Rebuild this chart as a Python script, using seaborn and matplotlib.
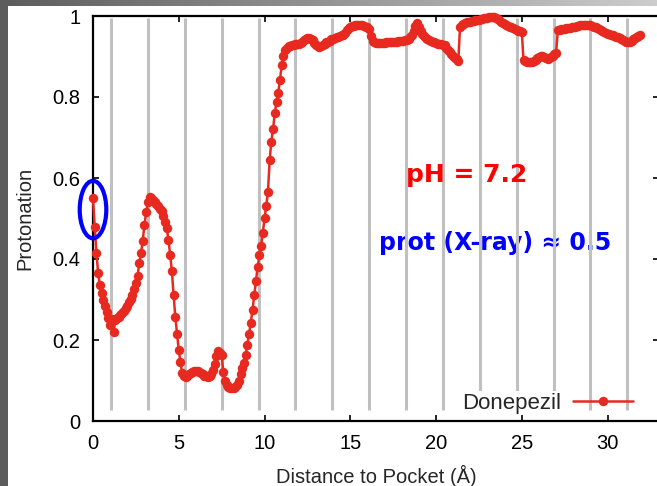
import matplotlib
matplotlib.use("Agg")
import matplotlib.pyplot as plt
import numpy as np
import pandas as pd
import seaborn as sns
from matplotlib.patches import Ellipse, Rectangle

# Protonation of Donepezil sampled every 0.1 Å along the exit path (0.0 .. 31.9 Å)
protonation = [
    0.550, 0.480, 0.415, 0.365, 0.335, 0.315, 0.300, 0.285, 0.270, 0.255,   # 0
    0.238, 0.252, 0.220, 0.250, 0.255, 0.258, 0.262, 0.266, 0.272, 0.278,   # 1
    0.285, 0.293, 0.302, 0.312, 0.325, 0.340, 0.358, 0.390, 0.415, 0.445,   # 2
    0.485, 0.515, 0.540, 0.552, 0.550, 0.546, 0.541, 0.536, 0.530, 0.524,   # 3
    0.518, 0.505, 0.492, 0.476, 0.447, 0.410, 0.370, 0.310, 0.257, 0.215,   # 4
    0.175, 0.145, 0.118, 0.110, 0.109, 0.112, 0.116, 0.119, 0.122, 0.124,   # 5
    0.124, 0.123, 0.121, 0.118, 0.115, 0.112, 0.110, 0.109, 0.111, 0.116,   # 6
    0.126, 0.140, 0.160, 0.172, 0.168, 0.162, 0.120, 0.100, 0.090, 0.085,   # 7
    0.082, 0.081, 0.082, 0.085, 0.090, 0.100, 0.115, 0.130, 0.143, 0.162,   # 8
    0.188, 0.215, 0.243, 0.275, 0.310, 0.345, 0.380, 0.410, 0.432, 0.465,   # 9
    0.500, 0.530, 0.565, 0.645, 0.690, 0.722, 0.760, 0.788, 0.810, 0.842,   # 10
    0.878, 0.900, 0.915, 0.921, 0.925, 0.927, 0.928, 0.929, 0.930, 0.931,   # 11
    0.932, 0.934, 0.937, 0.940, 0.943, 0.945, 0.946, 0.944, 0.940, 0.934,   # 12
    0.928, 0.925, 0.924, 0.926, 0.929, 0.932, 0.935, 0.937, 0.939, 0.942,   # 13
    0.944, 0.946, 0.948, 0.949, 0.950, 0.952, 0.954, 0.958, 0.965, 0.971,   # 14
    0.974, 0.975, 0.976, 0.977, 0.978, 0.978, 0.978, 0.977, 0.976, 0.974,   # 15
    0.972, 0.968, 0.950, 0.938, 0.935, 0.934, 0.933, 0.933, 0.933, 0.934,   # 16
    0.934, 0.935, 0.935, 0.936, 0.936, 0.937, 0.937, 0.937, 0.938, 0.938,   # 17
    0.939, 0.939, 0.940, 0.941, 0.944, 0.948, 0.953, 0.962, 0.975, 0.982,   # 18
    0.972, 0.962, 0.955, 0.950, 0.946, 0.943, 0.940, 0.938, 0.937, 0.936,   # 19
    0.934, 0.932, 0.931, 0.930, 0.929, 0.928, 0.922, 0.916, 0.911, 0.905,   # 20
    0.900, 0.896, 0.893, 0.890, 0.974, 0.978, 0.980, 0.982, 0.984, 0.985,   # 21
    0.986, 0.987, 0.988, 0.989, 0.990, 0.991, 0.992, 0.993, 0.994, 0.995,   # 22
    0.996, 0.997, 0.998, 0.998, 0.997, 0.995, 0.992, 0.989, 0.986, 0.983,   # 23
    0.980, 0.978, 0.976, 0.974, 0.972, 0.970, 0.968, 0.966, 0.964, 0.962,   # 24
    0.961, 0.891, 0.888, 0.887, 0.887, 0.887, 0.887, 0.889, 0.892, 0.896,   # 25
    0.899, 0.900, 0.900, 0.898, 0.896, 0.895, 0.896, 0.898, 0.902, 0.906,   # 26
    0.908, 0.965, 0.966, 0.967, 0.968, 0.969, 0.970, 0.970, 0.971, 0.972,   # 27
    0.973, 0.974, 0.975, 0.976, 0.977, 0.977, 0.978, 0.978, 0.978, 0.978,   # 28
    0.977, 0.976, 0.974, 0.972, 0.970, 0.968, 0.966, 0.964, 0.961, 0.958,   # 29
    0.956, 0.955, 0.954, 0.953, 0.951, 0.949, 0.947, 0.945, 0.943, 0.941,   # 30
    0.939, 0.937, 0.936, 0.937, 0.939, 0.942, 0.945, 0.948, 0.951, 0.953,   # 31
]
bin_width = 0.1
distance = [round(i * bin_width, 1) for i in range(len(protonation))]

# Boundaries between path segments (Å)
segment_bounds = [1.05, 3.2, 5.35, 7.5, 9.65, 11.8, 13.95, 16.1,
                  18.25, 20.4, 22.55, 24.7, 26.85, 29.0, 31.15]

x_ticks = [0, 5, 10, 15, 20, 25, 30]
y_ticks = [0, 0.2, 0.4, 0.6, 0.8, 1.0]
y_tick_labels = ["0", "0.2", "0.4", "0.6", "0.8", "1"]

series_name = "Donepezil"
ph_label = "pH = 7.2"
xray_label = "prot (X-ray) \u2248 0.5"
xray_prot = 0.5

RED = "#e8291f"

sns.set_theme(style="ticks")
plt.rcParams["font.family"] = ["Liberation Sans", "DejaVu Sans"]

W, H = 657, 486
fig = plt.figure(figsize=(W / 100, H / 100), dpi=100)
fig.patch.set_facecolor("white")

# slide frame: dark strip on the left, gradient strip along the top
fig.add_artist(Rectangle((0, 0), 8 / W, 1, transform=fig.transFigure,
                         facecolor="#5c5c5c", edgecolor="none", zorder=10))
top = fig.add_axes([0, 1 - 6 / H, 1, 6 / H])
grad = np.linspace(0.36, 0.80, 256).reshape(1, -1)
top.imshow(grad, aspect="auto", cmap="gray", vmin=0, vmax=1,
           extent=(0, 1, 0, 1))
top.set_axis_off()

ax = fig.add_axes([93 / W, 1 - 421 / H, (659 - 93) / W, (421 - 16) / H])
ax.set_facecolor("white")

df = pd.DataFrame({"Distance": distance, "Protonation": protonation})
sns.lineplot(data=df, x="Distance", y="Protonation", ax=ax, color=RED,
             lw=1.8, marker="o", markersize=6.8, markeredgewidth=0,
             markeredgecolor=RED, label=series_name, zorder=3,
             clip_on=False)

ax.vlines(segment_bounds, 0.028, 0.995, colors="#c0c0c0", lw=2.2, zorder=2)

ax.set_xlim(0, 33)
ax.set_ylim(0, 1)
ax.set_xticks(x_ticks)
ax.set_yticks(y_ticks)
ax.set_yticklabels(y_tick_labels)
ax.tick_params(direction="in", length=4.5, width=1.2, top=True, right=True,
               labelsize=14.5, pad=9, colors="black")
for side in ["left", "bottom", "top", "right"]:
    ax.spines[side].set_visible(True)
    ax.spines[side].set_linewidth(1.6)
    ax.spines[side].set_color("black")

ax.set_xlabel("Distance to Pocket (\u00c5)", fontsize=14.5, labelpad=9)
ax.set_ylabel("Protonation", fontsize=14.5, labelpad=13)

leg = ax.legend(loc="center right",
                bbox_to_anchor=((633 - 93) / 566, (421 - 403) / 405),
                frameon=False, markerfirst=False, handlelength=2.7,
                handletextpad=0.55, borderaxespad=0, borderpad=0,
                fontsize=16)
leg.set_zorder(2.5)
for t in leg.get_texts():
    t.set_bbox(dict(facecolor="white", edgecolor="none", pad=1))

ax.text(21.8, 0.59, ph_label, color="#ff0000", fontsize=18,
        fontweight="bold", family="DejaVu Sans", ha="center",
        va="baseline", zorder=4)
ax.text(23.45, 0.422, xray_label, color="#0000ff", fontsize=17,
        fontweight="bold", family="DejaVu Sans", ha="center",
        va="baseline", zorder=1.5)

# highlight of the pocket value
ax.add_patch(Ellipse((0, xray_prot + 0.022), width=1.55, height=0.142,
                     fill=False, edgecolor="#0000ff", lw=3, zorder=5,
                     clip_on=False))

fig.savefig("out.png", dpi=100)
